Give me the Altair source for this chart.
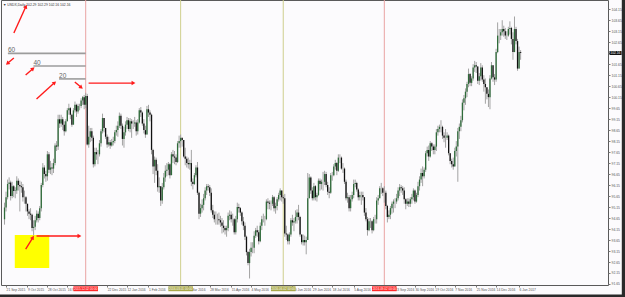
import json, math
import altair as alt
import pandas as pd

# ---------------- data (USDX daily) ----------------
first_open = 94.60
closes = [
95.13,
95.60, 96.20, 96.27, 95.65, 96.10,
95.88, 95.90, 96.35, 96.15, 96.10,
96.05, 95.60, 95.60, 95.30, 94.95,
94.85, 94.80, 94.20, 94.25, 94.55,
94.85, 94.65, 95.10, 96.15, 96.95,
96.65, 96.55, 97.55, 96.85, 96.95,
96.90, 97.15, 97.95, 97.90, 99.15,
98.95, 99.15, 98.90, 98.60, 99.05,
99.55, 99.65, 99.35, 98.90, 99.55,
99.80, 99.50, 99.75, 99.75, 100.00,
100.15, 99.80, 100.20, 98.00, 98.35,
98.60, 98.30, 97.10, 97.65, 97.55,
97.55, 98.05, 98.60, 99.20, 98.75,
98.35, 98.00, 98.10, 97.95,
98.10, 98.15, 98.55, 98.65,
98.85, 99.30, 98.85, 98.25, 98.55,
98.90, 99.10, 98.70, 99.05, 98.95,
98.95, 99.00, 98.60, 99.00, 99.55,
99.45, 98.95, 98.65, 98.45, 99.60,
99.45, 99.35, 97.75, 97.00, 97.30,
96.80, 96.05, 96.10, 95.45, 96.05,
96.50, 96.80, 96.85, 97.10, 96.60,
97.55, 97.45, 97.40, 97.20, 98.05,
98.15, 98.30, 98.20, 97.45, 97.35,
97.15, 97.10, 97.15, 96.30, 96.20,
96.60, 96.95, 95.80, 94.85, 95.10,
95.25, 95.55, 95.90, 96.10, 96.05,
95.80, 95.00, 94.80, 94.60, 94.60,
94.60, 94.55, 94.45, 94.30, 94.20,
94.10, 94.20, 94.75, 94.80, 94.60,
94.60, 94.00, 94.60, 95.15, 95.10,
94.90, 94.50, 94.30, 93.80, 93.10,
92.60, 93.10, 93.30, 93.30, 93.85,
94.10, 94.00, 93.60, 94.30, 94.60,
94.60, 94.60, 95.40, 95.35, 95.30,
95.30, 95.60, 95.10, 95.20, 95.50,
95.70, 95.90, 95.60, 95.55, 93.95,
93.90, 93.60, 93.90, 94.55, 94.45,
94.50, 94.70, 94.90, 94.70, 93.90,
93.55, 93.65, 93.55, 93.65, 95.55,
96.50, 95.90, 95.55, 96.10, 95.60,
95.70, 96.35, 96.20, 96.30, 96.30,
96.65, 96.15, 95.85, 95.80, 96.60,
96.60, 97.00, 97.15, 96.80, 97.40,
97.40, 96.90, 96.90, 96.30, 95.55,
95.60, 95.10, 95.50, 95.70, 96.20,
96.25, 95.95, 95.60, 95.70, 95.70,
95.60, 94.90, 94.60, 94.10, 94.50,
94.50, 94.10, 94.60, 94.60, 95.45,
95.55, 96.00, 96.00, 95.80, 95.80,
95.20, 94.70, 94.80, 95.10, 95.30,
95.40, 95.40, 95.55, 95.90, 96.05,
96.00, 95.90, 95.50, 95.30, 95.40,
95.30, 95.50, 95.60, 95.90, 95.40,
95.70, 96.10, 96.40, 96.70, 96.55,
96.85, 97.60, 97.75, 97.45, 98.05,
97.90, 97.75, 97.90, 98.55, 98.70,
98.80, 98.80, 98.40, 98.30, 98.30,
98.40, 97.60, 97.25, 97.10, 97.00,
97.70, 97.90, 98.60, 98.80, 99.10,
99.90, 100.10, 100.40, 100.75, 101.20,
100.80, 101.00, 101.50, 101.60, 101.55,
100.90, 101.10, 101.50, 100.95, 100.75,
100.60, 100.30, 100.15, 101.00, 101.60,
101.05, 100.95, 102.20, 102.95, 102.95,
103.10, 103.25, 103.15, 102.95, 102.95,
103.25, 103.30, 102.80, 102.20,
103.25, 102.70, 101.45, 102.20,
102.16,
]
highs = [
95.35,
95.85, 96.40, 96.50, 96.35, 96.30,
96.15, 96.05, 96.55, 96.45, 96.35,
96.30, 96.20, 95.90, 95.65, 95.30,
95.05, 95.10, 94.85, 94.55, 94.75,
95.00, 94.95, 95.20, 96.25, 97.15,
97.05, 96.80, 97.70, 97.65, 97.25,
97.15, 97.35, 98.05, 98.15, 99.35,
99.35, 99.35, 99.25, 99.05, 99.15,
99.65, 99.85, 99.70, 99.40, 99.65,
99.95, 99.85, 99.85, 99.85, 100.10,
100.20, 100.25, 100.35, 100.30, 98.85,
98.75, 98.75, 98.40, 97.85, 97.85,
97.75, 98.20, 98.70, 99.40, 99.20,
98.75, 98.45, 98.35, 98.20,
98.25, 98.35, 98.65, 98.85,
99.05, 99.45, 99.40, 98.95, 98.80,
99.05, 99.25, 99.20, 99.20, 99.15,
99.10, 99.25, 99.10, 99.15, 99.65,
99.70, 99.50, 99.15, 98.85, 99.75,
99.80, 99.55, 99.40, 97.80, 97.45,
97.40, 97.10, 96.50, 96.10, 96.25,
96.70, 97.05, 97.15, 97.20, 97.15,
97.65, 97.75, 97.70, 97.55, 98.15,
98.40, 98.45, 98.30, 98.20, 97.85,
97.45, 97.40, 97.30, 97.75, 96.45,
96.70, 97.05, 97.20, 95.85, 95.30,
95.50, 95.75, 96.05, 96.20, 96.20,
96.15, 96.00, 95.25, 94.95, 94.95,
94.85, 94.90, 94.75, 94.65, 94.55,
94.30, 94.30, 94.90, 95.00, 94.95,
94.85, 94.65, 94.75, 95.35, 95.30,
95.15, 94.95, 94.70, 94.45, 93.85,
93.15, 93.25, 93.55, 93.55, 94.05,
94.20, 94.30, 94.10, 94.45, 94.75,
94.85, 94.75, 95.50, 95.55, 95.45,
95.45, 95.70, 95.65, 95.35, 95.60,
95.80, 96.00, 95.90, 95.70, 95.75,
94.30, 93.95, 94.00, 94.65, 94.80,
94.65, 95.00, 95.05, 95.25, 94.75,
93.80, 93.90, 93.85, 93.80, 96.70,
96.65, 96.55, 96.05, 96.25, 96.15,
95.80, 96.45, 96.45, 96.40, 96.75,
96.80, 96.75, 96.30, 96.05, 96.70,
96.75, 97.10, 97.30, 97.20, 97.55,
97.55, 97.45, 97.15, 96.95, 96.40,
95.80, 95.70, 95.70, 95.85, 96.40,
96.40, 96.30, 96.00, 95.85, 95.85,
95.85, 95.60, 95.10, 94.70, 94.65,
94.65, 94.55, 94.70, 94.80, 95.60,
95.70, 96.10, 96.25, 96.05, 96.10,
95.90, 95.25, 95.00, 95.20, 95.40,
95.50, 95.55, 95.75, 96.05, 96.20,
96.15, 96.10, 96.05, 95.55, 95.55,
95.55, 95.60, 95.75, 96.00, 95.95,
95.80, 96.30, 96.55, 96.90, 97.00,
96.95, 97.70, 97.90, 97.95, 98.15,
98.10, 98.00, 98.00, 98.70, 98.85,
98.90, 99.10, 98.85, 98.55, 98.70,
98.55, 98.45, 97.60, 97.35, 97.40,
97.85, 98.15, 98.75, 98.95, 99.30,
100.05, 100.25, 100.55, 100.85, 101.45,
101.25, 101.10, 101.65, 101.80, 101.75,
101.40, 101.25, 101.70, 101.60, 101.15,
101.00, 100.60, 100.50, 101.15, 101.75,
101.60, 101.20, 102.35, 103.55, 103.25,
103.25, 103.65, 103.40, 103.30, 103.15,
103.35, 103.60, 103.35, 103.10,
103.82, 103.35, 102.80, 102.45,
102.29,
]
lows = [
94.35,
94.95, 95.50, 95.95, 95.45, 95.55,
95.60, 95.55, 95.75, 95.90, 94.95,
95.80, 95.40, 95.30, 94.95, 94.75,
94.60, 94.55, 94.05, 93.85, 94.10,
94.45, 94.45, 94.55, 94.95, 96.05,
96.45, 96.30, 96.35, 96.70, 96.65,
96.60, 96.70, 97.05, 97.70, 97.75,
98.75, 98.80, 98.65, 98.40, 98.55,
99.05, 99.35, 99.15, 98.80, 98.95,
99.45, 99.25, 99.40, 99.55, 99.65,
99.80, 99.60, 99.65, 97.95, 97.85,
98.10, 98.15, 96.95, 97.00, 97.30,
97.10, 97.45, 97.90, 98.50, 98.55,
98.25, 97.85, 97.90, 97.80,
97.90, 97.95, 98.05, 98.40,
98.35, 98.75, 98.70, 97.95, 97.85,
98.40, 98.70, 98.60, 98.55, 98.30,
98.70, 98.80, 98.40, 98.45, 98.95,
99.25, 98.85, 98.50, 98.30, 98.45,
99.25, 99.05, 97.55, 96.65, 96.25,
96.60, 95.85, 95.80, 95.20, 95.30,
95.95, 96.30, 96.55, 96.60, 96.45,
96.85, 97.15, 97.10, 97.05, 97.15,
97.85, 97.85, 97.90, 97.40, 97.05,
96.95, 96.90, 96.85, 96.10, 95.95,
96.15, 96.50, 95.70, 94.60, 94.70,
94.90, 95.00, 95.45, 95.70, 95.90,
95.65, 94.90, 94.65, 94.45, 94.35,
94.35, 94.35, 94.25, 93.95, 94.00,
93.90, 93.80, 94.05, 94.55, 94.45,
94.30, 93.90, 93.90, 94.45, 94.90,
94.75, 94.35, 94.10, 93.65, 92.95,
92.50, 91.90, 92.90, 93.05, 93.05,
93.75, 93.80, 93.45, 93.55, 94.10,
94.45, 94.30, 94.55, 95.05, 95.05,
95.00, 95.20, 94.95, 94.85, 95.00,
95.40, 95.45, 95.40, 95.30, 93.80,
93.65, 93.45, 93.45, 93.80, 94.30,
94.05, 94.40, 94.40, 94.55, 93.80,
93.45, 93.40, 93.40, 93.00, 93.75,
95.55, 95.75, 95.45, 95.45, 95.45,
95.40, 95.65, 95.90, 95.95, 95.90,
96.15, 96.05, 95.70, 95.55, 95.75,
96.35, 96.55, 96.85, 96.60, 96.75,
97.15, 96.85, 96.70, 96.20, 95.45,
95.35, 94.95, 94.95, 95.40, 95.55,
96.05, 95.85, 95.45, 95.45, 95.25,
95.45, 94.75, 94.50, 93.85, 94.05,
94.20, 93.95, 94.05, 94.40, 94.40,
95.25, 95.55, 95.75, 95.65, 95.35,
95.05, 94.45, 94.60, 94.60, 94.85,
94.90, 95.10, 95.30, 95.45, 95.65,
95.80, 95.70, 95.30, 95.05, 95.20,
95.15, 95.15, 95.30, 95.45, 95.30,
95.35, 95.60, 95.90, 96.25, 96.10,
96.45, 96.75, 97.45, 97.25, 97.40,
97.70, 97.55, 97.55, 97.70, 98.40,
98.55, 98.55, 98.25, 98.10, 97.85,
98.20, 97.50, 97.10, 96.95, 96.85,
97.30, 97.45, 96.30, 98.25, 98.60,
99.00, 99.55, 99.80, 100.15, 100.60,
100.65, 100.65, 100.90, 101.30, 101.25,
100.75, 100.70, 100.90, 100.85, 100.40,
99.85, 100.05, 99.70, 99.60, 100.95,
100.85, 100.70, 100.85, 102.15, 102.60,
102.75, 102.95, 102.90, 102.80, 102.75,
102.90, 103.00, 102.55, 101.85,
102.35, 102.55, 101.35, 101.45,
101.85,
]
holidays = ["2015-12-25", "2016-01-01", "2016-12-26", "2017-01-02"]

# x-axis labels (dates) and price-axis ticks
label_dates = ["2015-09-21", "2015-10-09", "2015-10-28", "2015-11-16",
               "2015-12-22", "2016-01-12", "2016-02-01", "2016-03-08",
               "2016-03-28", "2016-04-15", "2016-05-04", "2016-06-10",
               "2016-06-29", "2016-07-18", "2016-08-05", "2016-09-13",
               "2016-09-30", "2016-10-19", "2016-11-07", "2016-11-25", "2016-12-14",
               "2017-01-06"]
y_ticks = [91.65, 92.15, 92.65, 93.15, 93.65, 94.15, 94.65, 95.15, 95.65, 96.15,
           96.65, 97.15, 97.65, 98.15, 98.65, 99.15, 99.65, 100.15, 100.65, 101.15,
           101.65, 102.15, 102.65, 103.15, 103.65, 104.15]

# vertical period separators
vline_dates = ["2015-12-02", "2016-03-01", "2016-06-02", "2016-09-02"]
vline_colors = ["#e9a3a3", "#cfcf8e", "#cfcf8e", "#e9a3a3"]
vbox_colors = ["#ff2a2a", "#a9a94a", "#a9a94a", "#ff2a2a"]

# drawn annotations (bar index, price)
level_text = ["60", "40", "20"]
level_price = [102.14, 101.57, 100.98]
level_i0 = [2.2, 18.9, 35.6]
arrow_i0 = [6.1, 6.1, 13.8, 20.9, 45.9, 54.9, 13.8, 20.9]
arrow_p0 = [103.07, 101.93, 101.16, 100.07, 100.84, 100.79, 93.24, 93.83]
arrow_i1 = [13.8, 2.2, 18.3, 32.4, 49.8, 83.8, 18.3, 48.5]
arrow_p1 = [104.25, 101.70, 101.43, 100.79, 100.61, 100.79, 93.74, 93.83]
box_i = [6.7, 29.2]
box_p = [93.88, 92.38]
title_text = "\u25BC USDX,Daily  102.29 102.29 102.16 102.16"

# ---------------- build tables ----------------
dates = [d for d in pd.bdate_range("2015-09-18", "2017-01-09")
         if d.strftime("%Y-%m-%d") not in holidays]
n = min(len(dates), len(closes), len(highs), len(lows))
opens = [first_open] + closes[:n - 1]
date_key = [d.strftime("%Y-%m-%d") for d in dates[:n]]
rows = []
for k in range(n):
    o, c = opens[k], closes[k]
    rows.append(dict(i=k, o=o, c=c, h=max(highs[k], o, c), l=min(lows[k], o, c), up=bool(c >= o)))
df = pd.DataFrame(rows)

def fmt(ds):
    d = pd.Timestamp(ds)
    return f"{d.day} {d.strftime('%b %Y')}"

lab_idx = [date_key.index(d) for d in label_dates if d in date_key]
lab_txt = [fmt(d) for d in label_dates if d in date_key]

W, H = 607, 285
XD = [0.963, 390.8]
YD = [91.604, 104.57]
px_bar = W / (XD[1] - XD[0])
px_pt = H / (YD[1] - YD[0])

FONT = "Liberation Sans"
x_axis = alt.Axis(values=lab_idx,
                  labelExpr=f"{json.dumps(lab_txt)}[indexof({json.dumps(lab_idx)}, datum.value)]",
                  labelFontSize=3.3, labelFont=FONT, labelColor="#555", labelAlign="left",
                  labelBaseline="top", labelPadding=0.5, labelOverlap=False, labelFlush=False,
                  labelBound=False, tickSize=2, tickColor="#777", domain=False, grid=False, title=None)
y_axis = alt.Axis(values=y_ticks, format=".2f", orient="right", labelFontSize=3.4, labelFont=FONT,
                  labelColor="#555", labelPadding=1, labelOverlap=False, labelFlush=False,
                  tickSize=2, tickColor="#777", domain=False, grid=False, title=None)

def X(f):
    return alt.X(f, type="quantitative", scale=alt.Scale(domain=XD, nice=False, zero=False), axis=x_axis)

def Y(f):
    return alt.Y(f, type="quantitative", scale=alt.Scale(domain=YD, nice=False, zero=False), axis=y_axis)

vdf = pd.DataFrame({"i": [date_key.index(d) for d in vline_dates],
                    "col": vline_colors, "bcol": vbox_colors,
                    "t": [d.replace("-", ".") + " 00:00" for d in vline_dates]})
vdf["b0"] = vdf["i"] - 12.5 / px_bar
vdf["b1"] = vdf["i"] + 12.5 / px_bar

lev = pd.DataFrame({"t": level_text, "p": level_price, "i0": level_i0,
                    "i1": [float(vdf["i"][0])] * 3})

arr = pd.DataFrame({"i0": arrow_i0, "p0": arrow_p0, "i1": arrow_i1, "p1": arrow_p1})
arr["ang"] = [(math.degrees(math.atan2((b - a) * px_bar, (q - p) * px_pt)) + 360) % 360
              for a, p, b, q in zip(arrow_i0, arrow_p0, arrow_i1, arrow_p1)]

ybox = pd.DataFrame({"i0": [box_i[0]], "i1": [box_i[1]], "p0": [box_p[0]], "p1": [box_p[1]]})
cur = pd.DataFrame({"p": [closes[n - 1]], "t": [f"{closes[n - 1]:.2f}"]})
cur["p0"] = cur["p"] - 2.0 / px_pt
cur["p1"] = cur["p"] + 2.0 / px_pt
ttl = pd.DataFrame({"t": [title_text]})

# ---------------- layers ----------------
yellow = alt.Chart(ybox).mark_rect(color="#ffff00").encode(x=X("i0"), x2="i1", y=Y("p0"), y2="p1")
vlines = alt.Chart(vdf).mark_rule(strokeWidth=1).encode(
    x=X("i"), color=alt.Color("col:N", scale=None))
wicks = alt.Chart(df).mark_rule(color="#a3a3a3", strokeWidth=1, clip=True).encode(
    x=X("i"), y=Y("l"), y2="h")
bodies = alt.Chart(df).mark_bar(size=1.3, clip=True).encode(
    x=X("i"), y=Y("o"), y2="c",
    color=alt.condition(alt.datum.up, alt.value("#2f6b3a"), alt.value("#111111")))
levels = alt.Chart(lev).mark_rule(color="#9c9c9c", strokeWidth=1.6).encode(
    x=X("i0"), x2="i1", y=Y("p"))
level_labels = alt.Chart(lev).mark_text(align="left", baseline="bottom", fontSize=6.5, font=FONT,
                                        color="#666", dy=-0.3).encode(x=X("i0"), y=Y("p"), text="t")
arrows = alt.Chart(arr).mark_rule(color="#ff1a1a", strokeWidth=1.4).encode(
    x=X("i0"), y=Y("p0"), x2="i1", y2="p1")
heads = alt.Chart(arr).mark_point(shape="triangle", filled=True, color="#ff1a1a", size=20, opacity=1).encode(
    x=X("i1"), y=Y("p1"), angle=alt.Angle("ang:Q", scale=None))
vboxes = alt.Chart(vdf).mark_rect().encode(
    x=X("b0"), x2="b1", y=alt.value(286.3), y2=alt.value(291.2), color=alt.Color("bcol:N", scale=None))
vtexts = alt.Chart(vdf).mark_text(fontSize=3.0, font=FONT, color="white", baseline="middle").encode(
    x=X("i"), y=alt.value(288.8), text="t")
curbox = alt.Chart(cur).mark_rect(color="#111111").encode(
    x=alt.value(608.5), x2=alt.value(620.5), y=Y("p0"), y2="p1")
curtext = alt.Chart(cur).mark_text(fontSize=3.3, font=FONT, color="white", align="left", baseline="middle").encode(
    x=alt.value(609.3), y=Y("p"), text="t")
title = alt.Chart(ttl).mark_text(fontSize=3.4, font=FONT, color="#333", align="left", baseline="middle").encode(
    x=alt.value(2), y=alt.value(4.5), text="t")
edge_r = alt.Chart(ttl).mark_rect(color="#2a2a2a").encode(
    x=alt.value(620.8), x2=alt.value(624), y=alt.value(-1), y2=alt.value(297))
edge_b = alt.Chart(ttl).mark_rect(color="#2a2a2a").encode(
    x=alt.value(-1), x2=alt.value(624), y=alt.value(294.5), y2=alt.value(297))

chart = alt.layer(
    yellow, vlines, wicks, bodies, levels, level_labels, arrows, heads,
    vboxes, vtexts, curbox, curtext, title, edge_r, edge_b
).properties(
    width=W, height=H,
    autosize=alt.AutoSizeParams(type="none"),
    padding={"left": 1, "top": 0, "right": 17, "bottom": 12},
    background="#fcfbfd",
).configure_view(stroke="#5a5a5a", strokeWidth=1)

chart.save("out.html", embed_options={"renderer": "svg", "actions": False})
